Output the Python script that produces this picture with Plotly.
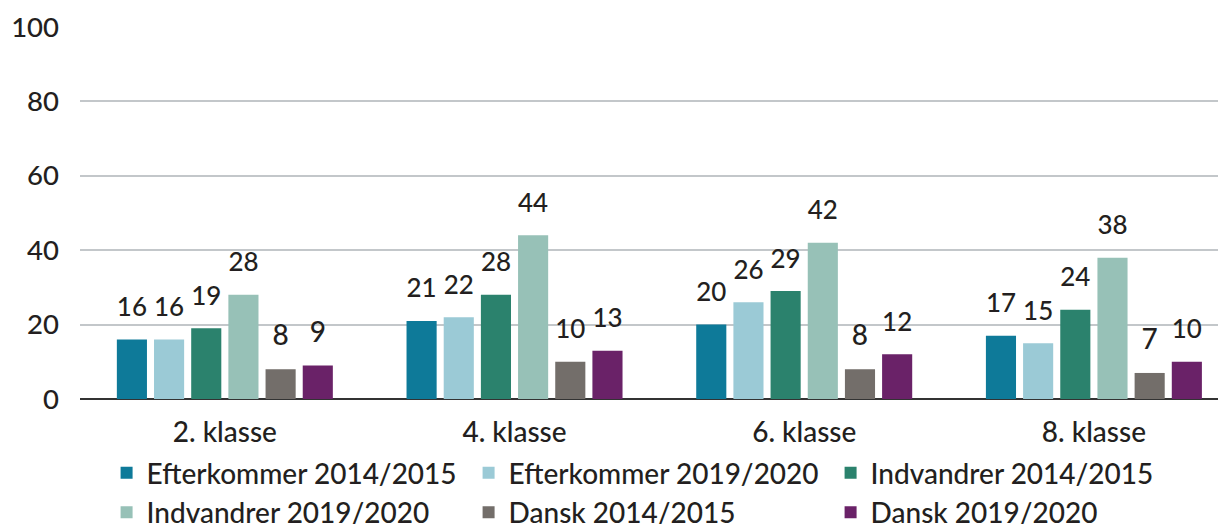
import plotly.graph_objects as go

categories = ["2. klasse", "4. klasse", "6. klasse", "8. klasse"]
series_names = [
    "Efterkommer 2014/2015",
    "Efterkommer 2019/2020",
    "Indvandrer 2014/2015",
    "Indvandrer 2019/2020",
    "Dansk 2014/2015",
    "Dansk 2019/2020",
]
efterkommer_1415 = [16, 21, 20, 17]
efterkommer_1920 = [16, 22, 26, 15]
indvandrer_1415 = [19, 28, 29, 24]
indvandrer_1920 = [28, 44, 42, 38]
dansk_1415 = [8, 10, 8, 7]
dansk_1920 = [9, 13, 12, 10]
y_ticks = [0, 20, 40, 60, 80, 100]

series_values = [efterkommer_1415, efterkommer_1920, indvandrer_1415,
                 indvandrer_1920, dansk_1415, dansk_1920]
colors = ["#0E7A99", "#9BCAD6", "#2B826D", "#97C1B7", "#736E6A", "#6A2268"]

FONT = "Lato"
TXT = "#231F20"
LABEL_LIFT = 4  # invisible spacer (in axis units) between bar top and its label

fig = go.Figure()
for i, (name, vals, col) in enumerate(zip(series_names, series_values, colors)):
    fig.add_trace(go.Bar(
        x=categories, y=vals, name=name, marker_color=col,
        marker_line_width=0, offsetgroup=str(i), hoverinfo="skip",
    ))
    # transparent spacer sitting on top of each bar, carrying the value label
    fig.add_trace(go.Bar(
        x=categories, y=[LABEL_LIFT] * len(vals), base=vals,
        marker_color="rgba(0,0,0,0)", marker_line_width=0,
        offsetgroup=str(i), showlegend=False, hoverinfo="skip",
        text=[str(v) for v in vals], textposition="outside",
        textfont=dict(family=FONT, size=28, color=TXT, weight=500),
        cliponaxis=False,
    ))

fig.update_layout(
    width=1218, height=516,
    margin=dict(l=72, r=0, t=19, b=125, autoexpand=False),
    paper_bgcolor="white", plot_bgcolor="white",
    barmode="group", bargap=0.23, bargroupgap=0.19,
    font=dict(family=FONT, size=28, color=TXT, weight=500),
    xaxis=dict(
        range=[-0.5, 3.456], showgrid=False, showline=False,
        tickfont=dict(family=FONT, size=28, color=TXT, weight=500),
        ticks="", ticklabelstandoff=14,
    ),
    yaxis=dict(
        range=[0, 100], tickvals=y_ticks, showgrid=True,
        gridcolor="#C3C7CA", gridwidth=1.5,
        zeroline=True, zerolinecolor="#333333", zerolinewidth=2,
        showline=False, ticks="", ticklabelstandoff=20,
        tickfont=dict(family=FONT, size=27.5, color=TXT, weight=500),
    ),
    showlegend=True,
    legend=dict(
        orientation="h", x=0.0232, xanchor="left",
        yref="container", y=0.147, yanchor="top",
        entrywidth=317, entrywidthmode="pixels",
        font=dict(family=FONT, size=28, color=TXT, weight=500),
        traceorder="normal", itemwidth=30, tracegroupgap=0,
    ),
)

fig.write_html("out.html")
